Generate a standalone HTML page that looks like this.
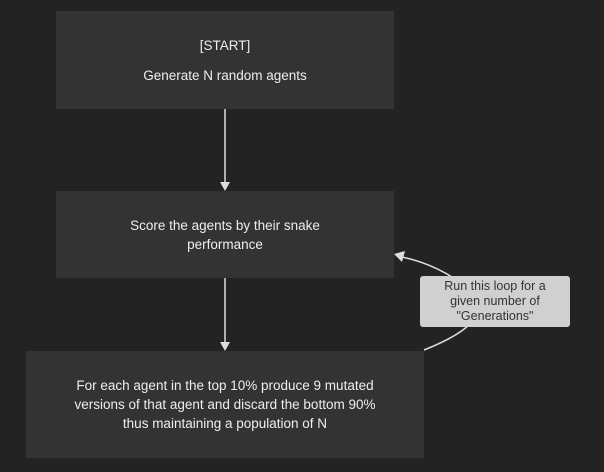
<!DOCTYPE html><html><head><style>
body{margin:0;width:604px;height:472px;background:#232323;font-family:"Liberation Sans",sans-serif;position:relative;overflow:hidden}
.b{position:absolute;background:#333;color:#eee;font-size:13.5px;text-align:center;display:flex;flex-direction:column;justify-content:center;align-items:center;line-height:19px}
.l{position:absolute;left:420px;top:276px;width:150px;height:51px;background:#d0d0d0;border-radius:3px;color:#333;font-size:12.5px;line-height:15px;text-align:center;display:flex;align-items:center;justify-content:center}
</style></head><body>
<svg width="604" height="472" style="position:absolute;left:0;top:0">
<line x1="225" y1="109" x2="225" y2="184" stroke="#ddd" stroke-width="1.5"/>
<polygon points="220,182 230,182 225,191" fill="#ddd"/>
<line x1="225" y1="278" x2="225" y2="344" stroke="#ddd" stroke-width="1.5"/>
<polygon points="220,342 230,342 225,351" fill="#ddd"/>
<path d="M424,350 Q500,320 470,290 Q440,265 402,257" fill="none" stroke="#ddd" stroke-width="1.5"/>
<polygon points="394,254 405,251 402,262" fill="#ddd"/>
</svg>
<div class="b" style="left:56px;top:11px;width:338px;height:98px"><div>[START]</div><div style="margin-top:11px">Generate N random agents</div></div>
<div class="b" style="left:56px;top:191px;width:338px;height:87px">Score the agents by their snake<br>performance</div>
<div class="b" style="left:26px;top:351px;width:398px;height:107px">For each agent in the top 10% produce 9 mutated<br>versions of that agent and discard the bottom 90%<br>thus maintaining a population of N</div>
<div class="l">Run this loop for a<br>given number of<br>"Generations"</div>
</body></html>
